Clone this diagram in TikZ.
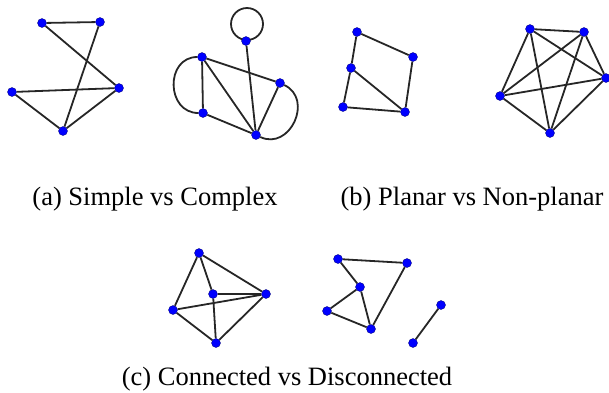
\documentclass[tikz,border=0pt]{standalone}
\usepackage{fontspec}
\setmainfont{Liberation Serif}
\usetikzlibrary{backgrounds}

\begin{document}
\begin{tikzpicture}[x=1pt,y=-1pt,
  vtx/.style={circle,fill=blue,draw=blue!45!black,line width=0.3pt,inner sep=0pt,minimum size=9pt},
  edge/.style={line width=1.8pt,black!85},
  captext/.style={font=\fontsize{26.5}{30}\selectfont,anchor=base,inner sep=0pt}]
\useasboundingbox (0,0) rectangle (609,392);
% (a) simple
\foreach \n/\x/\y in {sa/42/23,sb/100/22,sc/12/92,sd/119/88,se/63/131} {\node[vtx] (\n) at (\x,\y) {};}
% (a) complex
\foreach \n/\x/\y in {ct/246/41,cp/202/57,cq/203/113,cr/280/83,cs/256/135} {\node[vtx] (\n) at (\x,\y) {};}
% (b) planar
\foreach \n/\x/\y in {pa/357/32,pb/413/57,pc/351/68,pd/343/107,pe/405/112} {\node[vtx] (\n) at (\x,\y) {};}
% (b) non-planar, K5
\foreach \n/\x/\y in {k1/530/29,k2/584/32,k3/606/78,k4/500/96,k5/550/133} {\node[vtx] (\n) at (\x,\y) {};}
% (c) connected
\foreach \n/\x/\y in {ga/199/253,gb/213/294,gc/266/294,gd/173/310,ge/216/343} {\node[vtx] (\n) at (\x,\y) {};}
% (c) disconnected
\foreach \n/\x/\y in {da/338/259,db/407/263,dc/360/287,dd/327/311,de/371/329,df/441/305,dg/413/343} {\node[vtx] (\n) at (\x,\y) {};}
\begin{scope}[on background layer]
\foreach \u/\v in {sa/sb,sa/sd,sb/se,sc/sd,sc/se,se/sd,
                   ct/cs,cp/cq,cp/cr,cp/cs,cq/cs,cr/cs,
                   pa/pb,pa/pc,pc/pd,pc/pe,pd/pe,pb/pe,
                   k1/k2,k1/k3,k1/k4,k1/k5,k2/k3,k2/k4,k2/k5,k3/k4,k3/k5,k4/k5,
                   ga/gd,ga/gb,ga/gc,gb/gc,gd/gc,gd/ge,gb/ge,gc/ge,
                   da/db,da/dc,dc/dd,dd/de,dc/de,db/de,df/dg}
  {\draw[edge] (\u) -- (\v);}
\draw[edge] (cp) .. controls +(-37,0) and +(-37,0) .. (cq);
\draw[edge] (cr) .. controls +(34,16) and +(34,16) .. (cs);
\draw[edge] (ct) ++(1,-17) circle[radius=16];
\end{scope}
\node[captext] (capa) at (155,205) {(a) Simple vs Complex};
\node[captext] (capb) at (472,205) {(b) Planar vs Non-planar};
\node[captext] (capc) at (287,385) {(c) Connected vs Disconnected};
\end{tikzpicture}
\end{document}
